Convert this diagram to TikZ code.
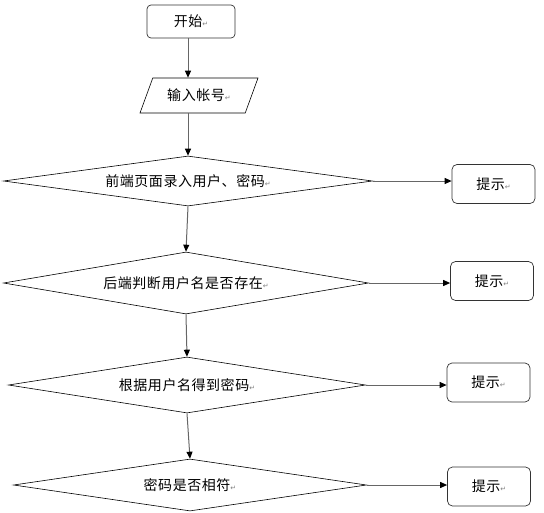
\documentclass[tikz,border=0pt]{standalone}
\usepackage{fontspec}
\newfontfamily\cjk[LetterSpace=4]{Noto Sans CJK SC}
\newfontfamily\dejavu{DejaVu Sans}
\usetikzlibrary{
    arrows.meta,
    shapes.geometric,
    positioning
}
\usepackage{xcolor}
\newcommand{\retmark}{{\dejavu\fontsize{7}{8}\selectfont\color{gray}↵}}
\tikzstyle{terminal} = [
    rectangle,
    rounded corners=4pt,
    draw=black!80,
    line width=0.7pt,
    minimum width=88pt,
    minimum height=33pt,
    font=\cjk\fontsize{14}{16}\selectfont
]
\tikzstyle{io} = [
    trapezium,
    trapezium left angle=57,
    trapezium right angle=123,
    trapezium stretches body,
    draw=black,
    line width=0.6pt,
    minimum width=118pt,
    minimum height=35pt,
    font=\cjk\fontsize{14}{16}\selectfont
]
\tikzstyle{decision} = [
    diamond,
    draw=black,
    line width=0.6pt,
    inner sep=0pt,
    font=\cjk\fontsize{14}{16}\selectfont
]
\tikzstyle{hint} = [
    rectangle,
    rounded corners=5pt,
    draw=black!80,
    line width=0.7pt,
    minimum width=83pt,
    minimum height=39pt,
    font=\cjk\fontsize{14}{16}\selectfont
]
\tikzstyle{flow} = [
    -{Triangle[length=7pt,width=6pt,color=black]},
    draw=gray!80!black,
    line width=1pt
]

\begin{document}
\begin{tikzpicture}[x=1pt, y=-1pt]
        \useasboundingbox (0,0) rectangle (544,512);

        % Start
        \node[terminal] (start) at (191, 21.5) {开始\retmark};

        % Account input
        \node[io] (input) at (199, 95.5) {输入帐号\retmark};

        % Checks
        \node[decision, aspect=7.38, minimum width=369pt, minimum height=50pt] (front) at (188, 181) {前端页面录入用户、密码\retmark};
        \node[decision, aspect=5.89, minimum width=365pt, minimum height=62pt] (exists) at (186, 283) {后端判断用户名是否存在\retmark};
        \node[decision, aspect=6.38, minimum width=357pt, minimum height=56pt] (getpwd) at (187, 385) {根据用户名得到密码\retmark};
        \node[decision, aspect=6.79, minimum width=353pt, minimum height=52pt] (match) at (190, 485) {密码是否相符\retmark};

        % Hints
        \node[hint] (hint1) at (493.5, 184) {提示\retmark};
        \node[hint] (hint2) at (492, 281) {提示\retmark};
        \node[hint] (hint3) at (488.5, 382.5) {提示\retmark};
        \node[hint] (hint4) at (489, 486.5) {提示\retmark};

        % Arrows
        \draw[flow] (start.south -| front.north) -- (input.north -| front.north);
        \draw[flow] (input.south -| front.north) -- (front.north);
        \draw[flow] (front.south) -- (exists.north);
        \draw[flow] (exists.south) -- (getpwd.north);
        \draw[flow] (getpwd.south) -- (match.north);
        \draw[flow] (front.east) -- (front.east -| hint1.west);
        \draw[flow] (exists.east) -- (exists.east -| hint2.west);
        \draw[flow] (getpwd.east) -- (getpwd.east -| hint3.west);
        \draw[flow] (match.east) -- (match.east -| hint4.west);
    \end{tikzpicture}
\end{document}
